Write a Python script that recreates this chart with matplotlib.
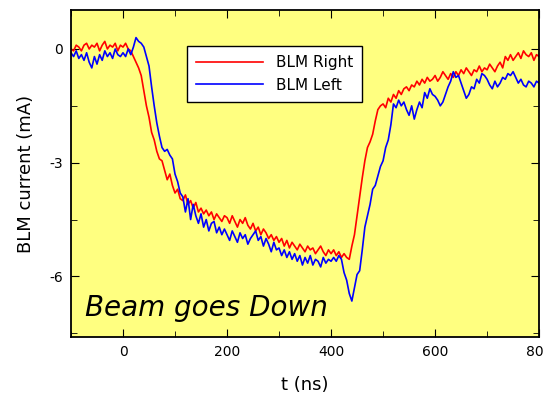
import matplotlib
matplotlib.use("Agg")
import matplotlib.pyplot as plt
import numpy as np

# time axis, 5 ns steps from -100 to 800 ns
t_ns = np.arange(-100, 801, 5)

blm_right = [
    0.0, -0.05, 0.1, 0.05, -0.05, 0.1, 0.15, 0.0, 0.1, 0.05,
    0.15, -0.05, 0.1, 0.2, 0.0, 0.1, 0.05, 0.15, -0.05, 0.1,
    0.05, 0.15, 0.0, -0.05, -0.2, -0.35, -0.5, -0.7, -1.1, -1.5,
    -1.8, -2.2, -2.4, -2.7, -2.9, -2.95, -3.2, -3.45, -3.3, -3.6,
    -3.8, -3.7, -3.95, -4.0, -3.85, -4.1, -4.0, -4.2, -4.05, -4.3,
    -4.2, -4.35, -4.25, -4.4, -4.3, -4.5, -4.35, -4.45, -4.55, -4.4,
    -4.45, -4.6, -4.4, -4.55, -4.7, -4.5, -4.6, -4.45, -4.65, -4.75,
    -4.6, -4.8, -4.7, -4.9, -4.75, -4.85, -5.0, -4.9, -5.05, -4.95,
    -5.1, -5.0, -5.2, -5.05, -5.25, -5.1, -5.2, -5.3, -5.15, -5.25,
    -5.35, -5.2, -5.3, -5.25, -5.4, -5.3, -5.2, -5.35, -5.45, -5.3,
    -5.4, -5.3, -5.45, -5.35, -5.5, -5.4, -5.5, -5.55, -5.2, -4.9,
    -4.4, -3.9, -3.4, -2.95, -2.6, -2.45, -2.25, -1.9, -1.6, -1.5,
    -1.45, -1.55, -1.3, -1.4, -1.2, -1.3, -1.1, -1.2, -1.05, -1.0,
    -1.1, -0.95, -1.0, -0.85, -0.95, -0.8, -0.9, -0.75, -0.85, -0.8,
    -0.7, -0.85, -0.75, -0.6, -0.7, -0.8, -0.65, -0.75, -0.6, -0.7,
    -0.55, -0.65, -0.5, -0.6, -0.7, -0.55, -0.6, -0.45, -0.6, -0.5,
    -0.55, -0.4, -0.5, -0.6, -0.45, -0.35, -0.5, -0.2, -0.3, -0.15,
    -0.3, -0.2, -0.1, -0.25, -0.05, -0.15, -0.2, -0.1, -0.3, -0.15,
    -0.2,
]

blm_left = [
    -0.1, -0.2, -0.05, -0.25, -0.15, -0.3, -0.1, -0.35, -0.5, -0.2,
    -0.4, -0.15, -0.3, -0.05, -0.2, -0.1, -0.25, 0.0, -0.15, -0.2,
    -0.1, -0.2, 0.0, -0.15, 0.05, 0.3, 0.2, 0.15, 0.05, -0.2,
    -0.45, -1.0, -1.5, -1.95, -2.3, -2.6, -2.7, -2.65, -2.8, -2.9,
    -3.3, -3.5, -3.8, -3.9, -4.3, -3.95, -4.5, -4.1, -4.4, -4.6,
    -4.35, -4.7, -4.5, -4.8, -4.6, -4.55, -4.85, -4.7, -4.9, -4.75,
    -4.9, -5.05, -4.8, -4.95, -5.1, -4.85, -5.0, -4.9, -5.15, -5.0,
    -4.9, -4.8, -5.05, -4.95, -5.2, -5.0, -5.15, -5.35, -5.1, -5.3,
    -5.25, -5.45, -5.3, -5.5, -5.35, -5.55, -5.4, -5.6, -5.45, -5.7,
    -5.5, -5.65, -5.45, -5.7, -5.55, -5.6, -5.75, -5.5, -5.65, -5.55,
    -5.6, -5.5, -5.6, -5.45, -5.55, -5.9, -6.1, -6.45, -6.65, -6.3,
    -5.95, -5.85, -5.3, -4.7, -4.4, -4.1, -3.7, -3.6, -3.35, -3.1,
    -2.95, -2.6, -2.4, -2.0, -1.45, -1.55, -1.35, -1.5, -1.4, -1.6,
    -1.75, -1.5, -1.85, -1.6, -1.4, -1.55, -1.15, -1.3, -1.05, -1.2,
    -1.25, -1.35, -1.5, -1.4, -1.2, -1.0, -0.85, -0.6, -0.75, -0.7,
    -0.9, -1.1, -1.3, -1.2, -1.0, -1.05, -0.8, -0.9, -0.65, -0.7,
    -0.8, -0.95, -1.05, -0.85, -1.0, -0.9, -0.75, -0.8, -0.65, -0.7,
    -0.6, -0.75, -0.9, -0.8, -0.95, -1.0, -0.85, -0.9, -1.0, -0.85,
    -0.9,
]

x_ticks = [0, 200, 400, 600, 800]
y_ticks = [0, -3, -6]
y_tick_labels = ["0", "-3", "-6"]

fig = plt.figure(figsize=(5.44, 3.97), dpi=100)
ax = fig.add_axes([0.1305, 0.151, 0.8605, 0.824])
ax.set_facecolor("#ffff80")

ax.plot(t_ns, blm_right, color="#ff0000", lw=1.2, label="BLM Right")
ax.plot(t_ns, blm_left, color="#0000ff", lw=1.2, label="BLM Left")

ax.set_xlim(-100, 800)
ax.set_ylim(-7.6, 1.03)
ax.set_xticks(x_ticks, [str(v) for v in x_ticks])
ax.set_xticks(np.arange(-100, 801, 100), minor=True)
ax.set_yticks(y_ticks, y_tick_labels)
ax.set_yticks([-7.5, -4.5, -1.5], minor=True)
ax.tick_params(axis="both", which="both", direction="in", top=True, right=True,
               labelsize=10, pad=6)
ax.tick_params(which="major", length=6)
ax.tick_params(which="minor", length=4)
for spine in ax.spines.values():
    spine.set_linewidth(1.3)

ax.set_xlabel("t (ns)", fontsize=13, labelpad=12)
ax.set_ylabel("BLM current (mA)", fontsize=13, labelpad=10)

leg = ax.legend(loc="upper left", bbox_to_anchor=(0.248, 0.89), borderaxespad=0,
                fontsize=11, fancybox=False, edgecolor="black", framealpha=1,
                handlelength=4.4, borderpad=0.6, labelspacing=0.5)
leg.get_frame().set_linewidth(1.0)

ax.text(0.03, 0.09, "Beam goes Down", transform=ax.transAxes, fontsize=20,
        style="italic", va="center", ha="left")

fig.savefig("out.png", dpi=100)
